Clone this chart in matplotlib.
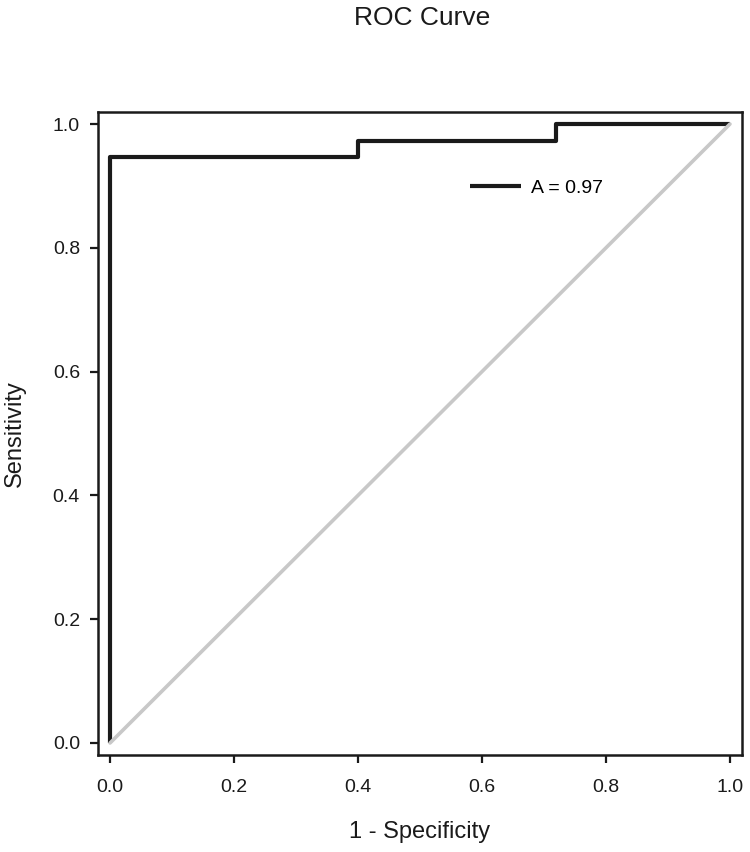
import numpy as np
import matplotlib.pyplot as plt

plt.rcParams['font.family'] = ['Liberation Sans', 'DejaVu Sans']

# ROC points (1 - specificity, sensitivity)
fpr = [0.0, 0.0, 0.4, 0.4, 0.72, 0.72, 1.0]
tpr = [0.0, 0.946, 0.946, 0.973, 0.973, 1.0, 1.0]
auc_label = "A = 0.97"
ticks = [0.0, 0.2, 0.4, 0.6, 0.8, 1.0]
tick_labels = ["0.0", "0.2", "0.4", "0.6", "0.8", "1.0"]

fig = plt.figure(figsize=(7.5, 8.52), dpi=100)
ax = fig.add_axes([98/750, 1 - 755/852, 644/750, 643/852])

ax.plot(fpr, tpr, color='#1a1a1a', lw=3.0, solid_capstyle='butt', label=auc_label)
ax.plot([0, 1], [0, 1], color='#c8c8c8', lw=2.6, solid_capstyle='round')

ax.set_xlim(-0.0194, 1.0194)
ax.set_ylim(-0.0194, 1.0194)
ax.set_xticks(ticks)
ax.set_xticklabels(tick_labels)
ax.set_yticks(ticks)
ax.set_yticklabels(tick_labels)
ax.tick_params(direction='out', length=6, width=1.6, labelsize=14, colors='#1a1a1a')
ax.tick_params(axis='x', pad=11)
ax.tick_params(axis='y', pad=7)

for s in ax.spines.values():
    s.set_linewidth(1.8)
    s.set_color('#1a1a1a')

ax.set_xlabel("1 - Specificity", fontsize=17, va='center', color='#1a1a1a')
ax.xaxis.set_label_coords(0.5, (755 - 832) / 643)
ax.set_ylabel("Sensitivity", fontsize=17, va='center', color='#1a1a1a')
ax.yaxis.set_label_coords((15 - 98) / 644, 0.5)
fig.text(422/750, 1 - 18/852, "ROC Curve", ha='center', va='center', fontsize=19, color='#1a1a1a')

ax.legend(loc='upper left', bbox_to_anchor=((452 - 98)/644, 1 - (162 - 112)/643),
          frameon=False, fontsize=14, handlelength=2.65, handletextpad=0.5)

fig.savefig("out.png", dpi=100)
